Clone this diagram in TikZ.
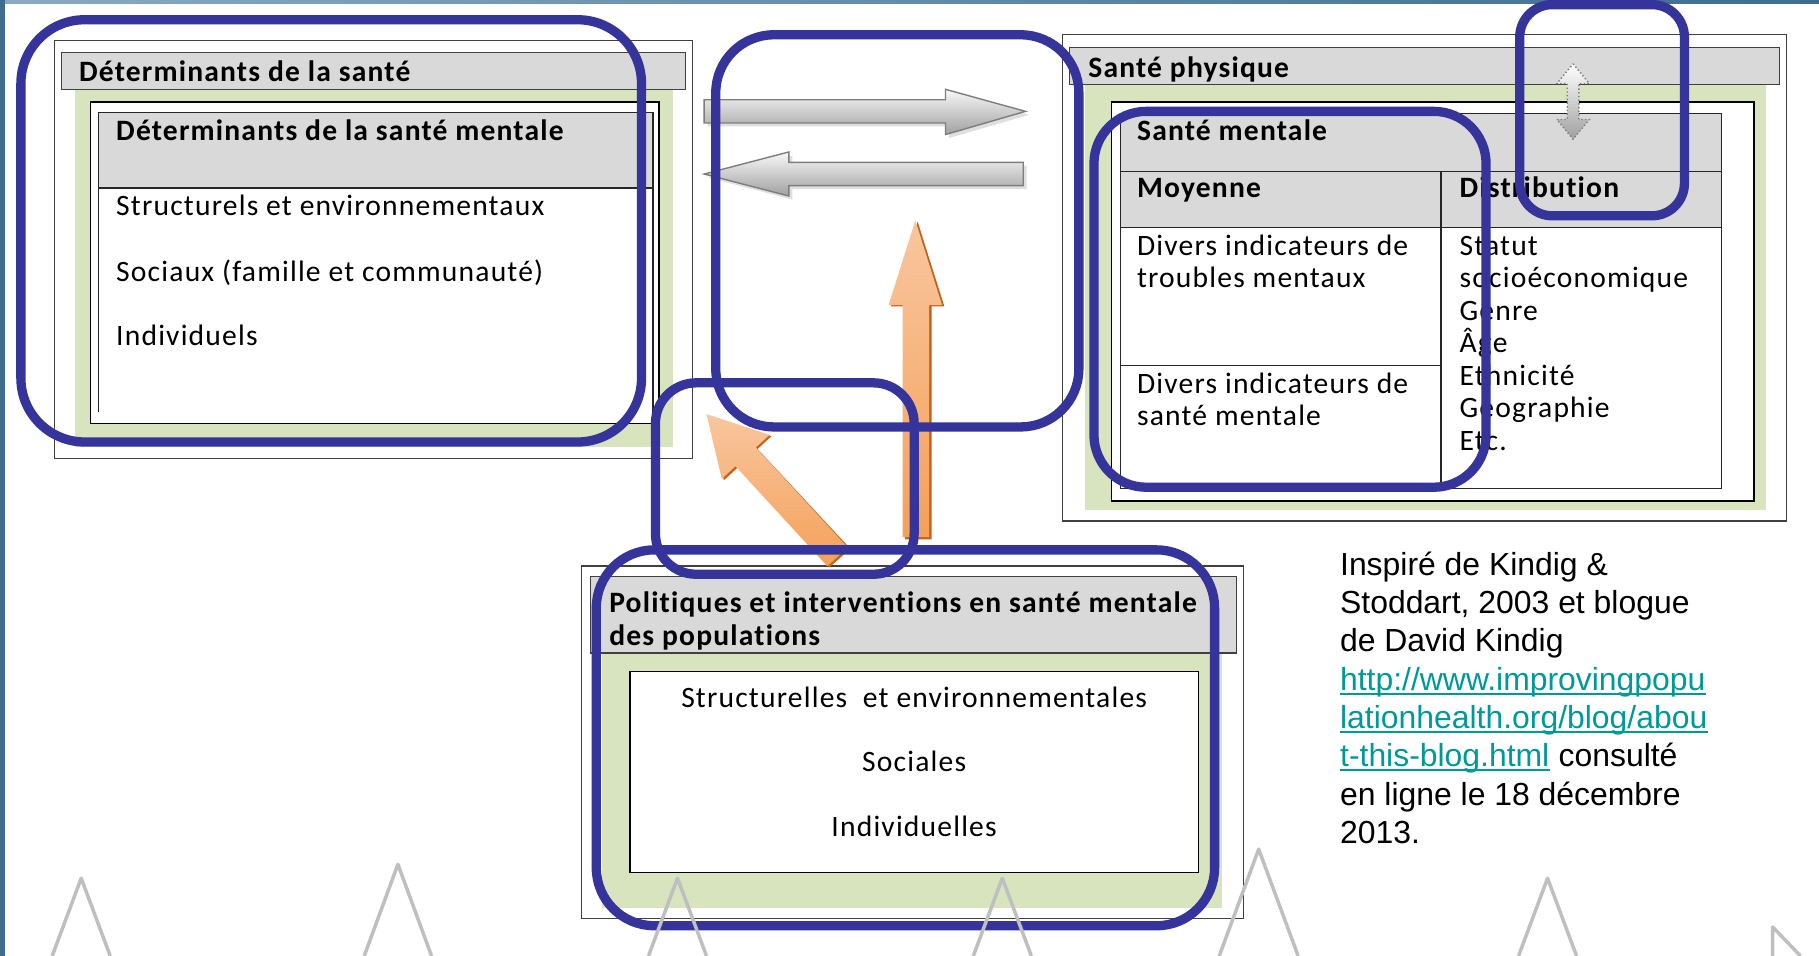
\documentclass[tikz,border=0pt]{standalone}
\usepackage{fontspec}
\setmainfont{Carlito}[LetterSpace=4, Ligatures={NoCommon,NoRare}]
\newfontfamily\arialfont{Liberation Sans}
\definecolor{bluec}{RGB}{53,52,154}
\definecolor{hdr}{RGB}{217,217,217}
\definecolor{grn}{RGB}{215,228,189}
\definecolor{frm}{RGB}{64,64,64}
\definecolor{tri}{RGB}{191,191,191}
\definecolor{linkc}{RGB}{0,153,153}
\definecolor{orL}{RGB}{249,198,158}
\definecolor{orM}{RGB}{242,148,67}
\definecolor{orD}{RGB}{196,98,26}
\definecolor{grL}{RGB}{248,248,248}
\definecolor{grD}{RGB}{160,160,160}
\definecolor{grO}{RGB}{125,125,125}
\definecolor{edgeA}{RGB}{62,109,143}
\definecolor{edgeB}{RGB}{138,169,194}
\tikzset{
  frame/.style={draw=frm, line width=1.2},
  hdrbar/.style={fill=hdr, draw=frm, line width=1.2},
  greenarea/.style={fill=grn},
  whitebox/.style={fill=white, draw=black, line width=1.2},
  tline/.style={draw=black!85, line width=1.2},
  txt/.style={inner sep=0pt, anchor=base west, font=\fontsize{25.5}{28}\selectfont},
  btxt/.style={inner sep=0pt, anchor=base west, font=\fontsize{25.5}{28}\selectfont\bfseries},
  ctxt/.style={inner sep=0pt, anchor=base, font=\fontsize{25.5}{28}\selectfont},
  cite/.style={inner sep=0pt, anchor=base west, font=\arialfont\fontsize{27.5}{33}\selectfont},
  hl/.style={draw=bluec, line width=8},
  tria/.style={draw=tri, line width=3, line join=round},
  grayarrow/.style={top color=grL, bottom color=grD, draw=grO, line width=1.2},
  orarrow/.style={top color=orL, middle color=orM, bottom color=orM!75!orL},
}
\begin{document}
\begin{tikzpicture}[x=1pt,y=-1pt]
\useasboundingbox (0,0) rectangle (1568,824);
\fill[white] (0,0) rectangle (1568,824);
\fill[left color=edgeB, right color=edgeA] (0,0) rectangle (1568,3);
\fill[edgeA] (0,0) rectangle (4,824);

% ---------- left panel ----------
\draw[frame] (47,35) rectangle (597,395);
\fill[greenarea] (65,77) rectangle (580,385);
\draw[hdrbar] (53,45) rectangle (591,77);
\draw[whitebox] (78,88) rectangle (568,365);
\fill[hdr] (85,97) rectangle (563,162);
\draw[tline] (85,355) -- (85,97) -- (563,97) -- (563,365);
\draw[tline] (85,162) -- (563,162);
\node[btxt] (dsante) at (68,70) {Déterminants de la santé};
\node[btxt] (dsm) at (100,121) {Déterminants de la santé mentale};
\node[txt] (struct) at (100,186) {Structurels et environnementaux};
\node[txt] (soc) at (100,243) {Sociaux (famille et communauté)};
\node[txt] (indiv) at (100,298) {Individuels};

% ---------- right panel ----------
\draw[frame] (916,30) rectangle (1540,449);
\fill[greenarea] (935,73) rectangle (1522,440);
\draw[hdrbar] (922,41) rectangle (1534,73);
\draw[whitebox] (958,88) rectangle (1512,432);
\fill[hdr] (966,98) rectangle (1484,196);
\draw[tline] (966,98) rectangle (1484,421);
\draw[tline] (966,148) -- (1484,148);
\draw[tline] (966,196) -- (1484,196);
\draw[tline] (1242,148) -- (1242,421);
\draw[tline] (966,315) -- (1242,315);
\node[btxt] (sphys) at (938,67) {Santé physique};
\node[btxt] (sment) at (980,121) {Santé mentale};
\node[btxt] (moy) at (980,170) {Moyenne};
\node[btxt] (distr) at (1258,170) {Distribution};
\node[txt] (m1) at (980,220) {Divers indicateurs de};
\node[txt] (m2) at (980,248) {troubles mentaux};
\node[txt] (m3) at (980,339) {Divers indicateurs de};
\node[txt] (m4) at (980,367) {santé mentale};
\node[txt] (d1) at (1258,220) {Statut};
\node[txt] (d2) at (1258,248) {socioéconomique};
\node[txt] (d3) at (1258,276) {Genre};
\node[txt] (d4) at (1258,304) {Âge};
\node[txt] (d5) at (1258,332) {Ethnicité};
\node[txt] (d6) at (1258,360) {Géographie};
\node[txt] (d7) at (1258,388) {Etc.};

% double arrow
\draw[top color=white, bottom color=grD, draw=grO, dotted, line width=1.2]
  (1356,55) -- (1370,72) -- (1361,72) -- (1361,103) -- (1370,103) -- (1356,120)
  -- (1342,103) -- (1351,103) -- (1351,72) -- (1342,72) -- cycle;

% ---------- bottom panel ----------
\draw[frame] (501,488) rectangle (1072,792);
\fill[greenarea] (519,563) rectangle (1053,783);
\draw[hdrbar] (509,497) rectangle (1066,563);
\draw[whitebox] (543,579) rectangle (1033,752);
\node[btxt] (pol1) at (525,528) {Politiques et interventions en santé mentale};
\node[btxt] (pol2) at (525,556) {des populations};
\node[ctxt] (p1) at (788,610) {Structurelles\ \ et environnementales};
\node[ctxt] (p2) at (788,665) {Sociales};
\node[ctxt] (p3) at (788,721) {Individuelles};

% ---------- gray arrows ----------
\fill[gray!25] (610,89) -- (818,89) -- (818,80) -- (887,99) -- (818,119) -- (818,109) -- (610,109) -- cycle;
\draw[grayarrow] (607,86) -- (815,86) -- (815,77) -- (884,96) -- (815,116) -- (815,106) -- (607,106) -- cycle;
\fill[gray!25] (885,143) -- (683,143) -- (683,134) -- (610,153) -- (683,172) -- (683,163) -- (885,163) -- cycle;
\draw[grayarrow] (882,140) -- (680,140) -- (680,131) -- (607,150) -- (680,169) -- (680,160) -- (882,160) -- cycle;

% ---------- orange arrows ----------
\fill[orD] (791,191) -- (814,264) -- (803,264) -- (803,465) -- (780,465) -- (780,264) -- (768,264) -- cycle;
\path[orarrow] (789,190) -- (812,263) -- (801,263) -- (801,463) -- (778,463) -- (778,263) -- (766,263) -- cycle;
\fill[orD] (611,358) -- (665,376) -- (653,387) -- (733,473) -- (715,489) -- (636,403) -- (624,414) -- cycle;
\path[orarrow] (609,357) -- (663.4,374.8) -- (651.6,385.7) -- (730.8,471.9) -- (713.2,488.1) -- (634,401.9) -- (622.2,412.8) -- cycle;

% ---------- citation ----------
\node[cite] (c1) at (1155,496) {Inspiré de Kindig \&};
\node[cite] (c2) at (1155,529) {Stoddart, 2003 et blogue};
\node[cite] (c3) at (1155,562) {de David Kindig};
\node[cite, text=linkc] (c4) at (1155,595) {http://www.improvingpopu};
\node[cite, text=linkc] (c5) at (1155,628) {lationhealth.org/blog/abou};
\node[cite, text=linkc] (c6) at (1155,661) {t-this-blog.html};
\node[cite, anchor=base west] (c6b) at (c6.base east) {\ consulté};
\node[cite] (c7) at (1155,694) {en ligne le 18 décembre};
\node[cite] (c8) at (1155,727) {2013.};
\foreach \n in {c4,c5,c6}{
  \draw[linkc, line width=1.8] ([yshift=-3pt]\n.base west) -- ([yshift=-3pt]\n.base east);
}

% ---------- blue highlight frames ----------
\draw[hl, rounded corners=55] (18,17) rectangle (553,381);
\draw[hl, rounded corners=50] (617,30) rectangle (930,368);
\draw[hl, rounded corners=35] (565,330) rectangle (788,495);
\draw[hl, rounded corners=50] (514,474) rectangle (1047,798);
\draw[hl, rounded corners=28] (1310,4) rectangle (1452,186);
\draw[hl, rounded corners=45] (943,96) rectangle (1281,420);

% ---------- background triangles ----------
\draw[tria] (45,824) -- (70,757) -- (95,824);
\draw[tria] (314,824) -- (343,745) -- (372,824);
\draw[tria] (559,824) -- (584,757) -- (609,824);
\draw[tria] (839,824) -- (864,757) -- (889,824);
\draw[tria] (1051,824) -- (1085,732) -- (1119,824);
\draw[tria] (1309,824) -- (1334,757) -- (1359,824);
\draw[tria] (1528,824) -- (1528,799) -- (1552,824);
\end{tikzpicture}
\end{document}
